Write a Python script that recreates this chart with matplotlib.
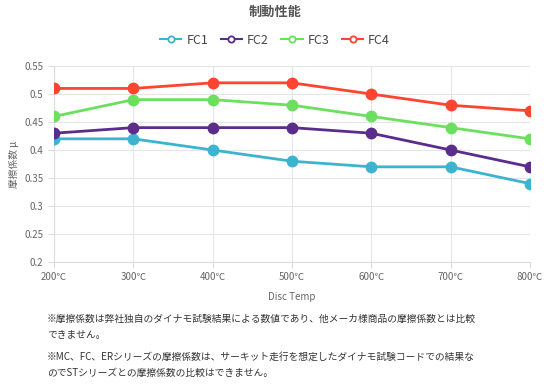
import matplotlib
matplotlib.use('Agg')
from matplotlib import pyplot as plt
from matplotlib.lines import Line2D

plt.rcParams['font.family'] = ['Noto Sans CJK JP', 'DejaVu Sans']

temps = ['200℃', '300℃', '400℃', '500℃', '600℃', '700℃', '800℃']
series_names = ['FC1', 'FC2', 'FC3', 'FC4']
fc1 = [0.42, 0.42, 0.40, 0.38, 0.37, 0.37, 0.34]
fc2 = [0.43, 0.44, 0.44, 0.44, 0.43, 0.40, 0.37]
fc3 = [0.46, 0.49, 0.49, 0.48, 0.46, 0.44, 0.42]
fc4 = [0.51, 0.51, 0.52, 0.52, 0.50, 0.48, 0.47]
colors = ['#3cb4d0', '#5a2d8c', '#6ce05e', '#ff4430']
yticks = [0.2, 0.25, 0.3, 0.35, 0.4, 0.45, 0.5, 0.55]

note1 = '※摩擦係数は弊社独自のダイナモ試験結果による数値であり、他メーカ様商品の摩擦係数とは比較\nできません。'
note2 = '※MC、FC、ERシリーズの摩擦係数は、サーキット走行を想定したダイナモ試験コードでの結果な\nのでSTシリーズとの摩擦係数の比較はできません。'

fig = plt.figure(figsize=(5.5, 3.84), dpi=100)
ax = fig.add_axes([0.0982, 0.3177, 0.8654, 0.5103])

x = range(len(temps))
for vals, c in zip([fc1, fc2, fc3, fc4], colors):
    ax.plot(x, vals, color=c, lw=2, marker='o', ms=7.5, zorder=3)

ax.set_xlim(0, len(temps) - 1)
ax.set_ylim(0.2, 0.55)
ax.set_xticks(list(x))
ax.set_xticklabels(temps)
ax.set_yticks(yticks)
ax.set_yticklabels([('%g' % v) for v in yticks])
ax.grid(True, color='#e6e6e6', lw=0.8)
ax.set_axisbelow(True)
for s in ['top', 'right']:
    ax.spines[s].set_visible(False)
for s in ['left', 'bottom']:
    ax.spines[s].set_color('#dddddd')
ax.tick_params(colors='#dddddd', labelcolor='#666666', labelsize=7, length=4)
ax.set_xlabel('Disc Temp', fontsize=7, color='#666666', labelpad=7)
ax.set_ylabel('摩擦係数 μ', fontsize=7, color='#666666', labelpad=4)

fig.text(0.5, 0.97, '制動性能', ha='center', va='center', fontsize=9.5,
         fontweight='bold', color='#555555')

handles = [Line2D([0], [0], color=c, lw=1.5, marker='o', ms=4.5,
                  markerfacecolor='white', markeredgewidth=1.3) for c in colors]
leg = fig.legend(handles, series_names, loc='center', bbox_to_anchor=(0.5, 0.895),
                 ncol=4, frameon=False, fontsize=9, handlelength=1.7,
                 handletextpad=0.4, columnspacing=1.0)
for t in leg.get_texts():
    t.set_color('#444444')

fig.text(0.085, 0.148, note1, ha='left', va='center', fontsize=7,
         color='#333333', linespacing=1.7)
fig.text(0.085, 0.05, note2, ha='left', va='center', fontsize=7,
         color='#333333', linespacing=1.7)

plt.savefig('out.png', dpi=100)
